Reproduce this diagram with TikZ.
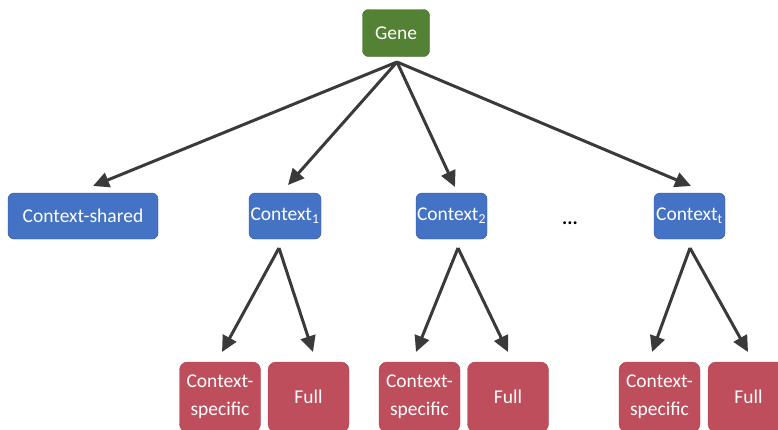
\documentclass[tikz,border=0pt]{standalone}
\usepackage{fontspec}
\setmainfont{Carlito}
\usetikzlibrary{arrows.meta}
\definecolor{genegreen}{HTML}{548235}
\definecolor{ctxblue}{HTML}{4472C4}
\definecolor{modred}{HTML}{BF4E5D}
\definecolor{arrgray}{HTML}{3A3A3A}

\begin{document}
\begin{tikzpicture}[x=1pt,y=-1pt,
  gbox/.style={draw=genegreen!80!black,fill=genegreen,rounded corners=6pt,text=white,
    inner sep=0pt,minimum width=67pt,minimum height=47pt},
  cbox/.style={draw=ctxblue!75!black,fill=ctxblue,rounded corners=6pt,text=white,
    inner sep=0pt,minimum width=71pt,minimum height=46pt},
  rbox/.style={draw=modred!90!black,fill=modred,rounded corners=8pt,text=white,align=center,
    inner sep=0pt,minimum width=81pt,minimum height=70pt},
  arr/.style={line width=3pt,draw=arrgray,-{Triangle[length=16pt,width=15pt]}},
  every node/.style={font=\fontsize{19.5}{28}\selectfont}]
\clip (0,0) rectangle (778,429);

% top level
\node [gbox] at (396,33) (gene) {Gene};

% contexts
\node [cbox,minimum width=150pt] at (83,216) (shared) {Context-shared};
\node [cbox,minimum width=72pt] at (285,216) (ca) {Context\textsubscript{1}};
\node [cbox] at (451.5,216) (cb) {Context\textsubscript{2}};
\node at (570,223) (dots) {\textbf{...}};
\node [cbox] at (689.5,216) (ct) {Context\textsubscript{t}};

% models
\node [rbox] at (220,397) (sa) {Context-\\specific};
\node [rbox] at (308.5,397) (fa) {Full};
\node [rbox] at (419.5,397) (sb) {Context-\\specific};
\node [rbox] at (508,397) (fb) {Full};
\node [rbox] at (659.5,397) (st) {Context-\\specific};
\node [rbox] at (748.5,397) (ft) {Full};

% fork points and arrow ends
\coordinate (g0) at (397,62);
\coordinate (a0) at (279,248);
\coordinate (b0) at (458,248);
\coordinate (t0) at (690,248);

\coordinate (shared-in) at (93,186);
\coordinate (ca-in) at (288,185);
\coordinate (cb-in) at (455,187);
\coordinate (ct-in) at (691,186);

\coordinate (sa-in) at (222,352);
\coordinate (fa-in) at (313,352);
\coordinate (sb-in) at (416,352);
\coordinate (fb-in) at (508,352);
\coordinate (st-in) at (652,352);
\coordinate (ft-in) at (748,352);

\draw [arr] (g0) to (shared-in);
\draw [arr] (g0) to (ca-in);
\draw [arr] (g0) to (cb-in);
\draw [arr] (g0) to (ct-in);

\draw [arr] (a0) to (sa-in);
\draw [arr] (a0) to (fa-in);
\draw [arr] (b0) to (sb-in);
\draw [arr] (b0) to (fb-in);
\draw [arr] (t0) to (st-in);
\draw [arr] (t0) to (ft-in);

\end{tikzpicture}
\end{document}
